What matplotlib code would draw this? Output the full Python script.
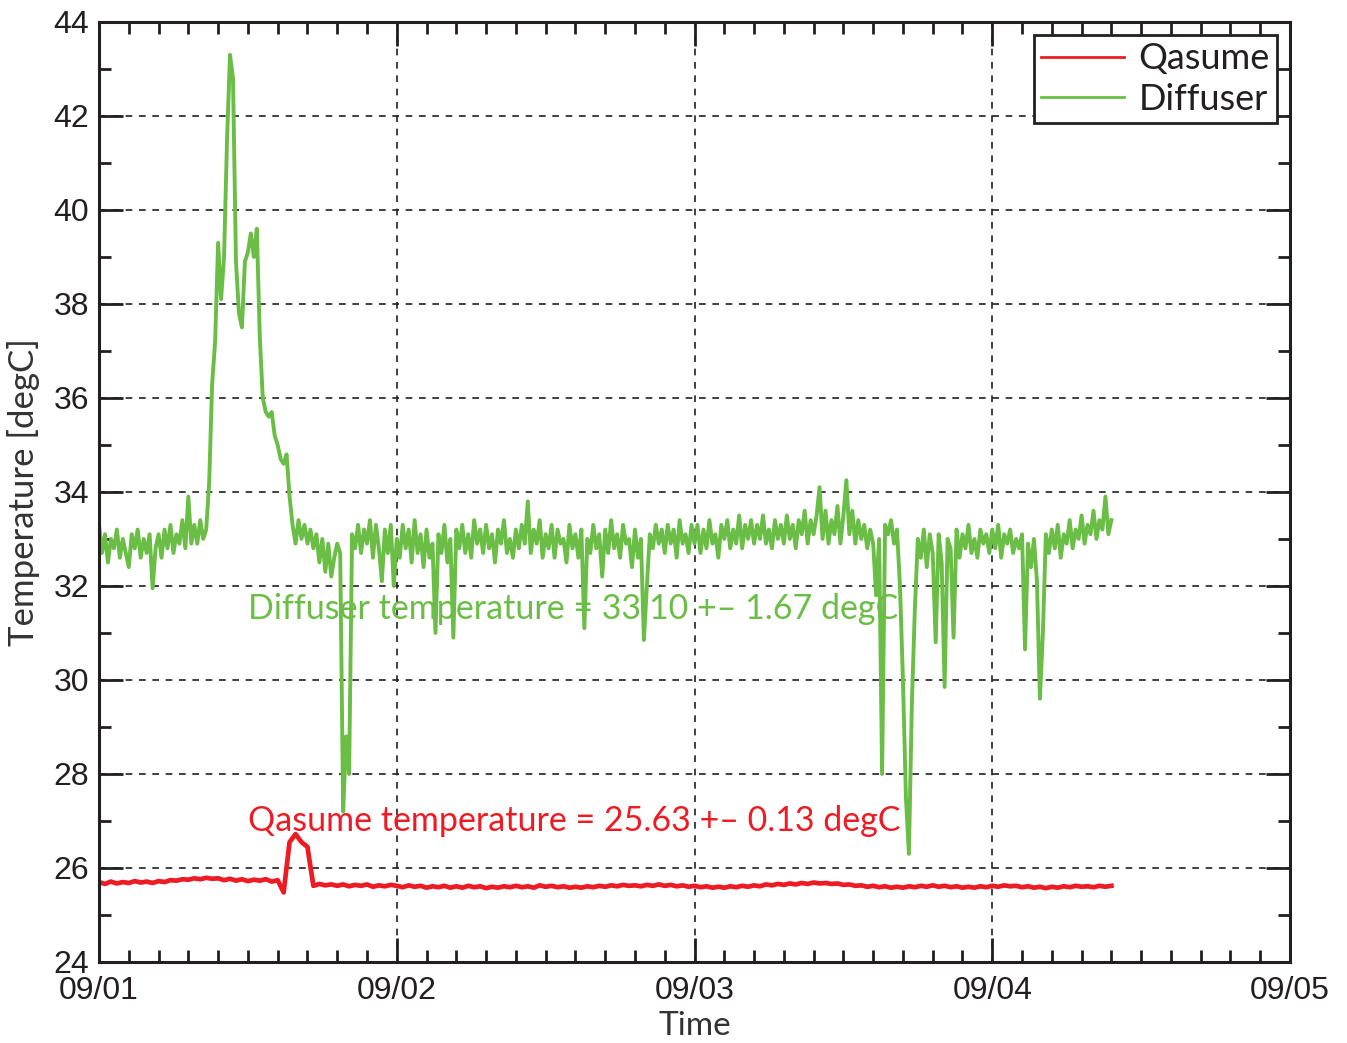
import matplotlib.pyplot as plt
from matplotlib.ticker import MultipleLocator

# time in days since 09/01, one diffuser sample every 0.01 day
diff_start = 0.0
diff_step = 0.01
diffuser = [
    33.3, 32.7, 33.1, 32.5, 33.0, 32.8, 33.2, 32.6, 33.0, 32.7,
    32.4, 33.1, 32.8, 33.2, 32.6, 33.0, 32.7, 33.1, 31.95, 32.8,
    33.1, 32.6, 33.2, 32.8, 33.3, 32.7, 33.1, 32.9, 33.4, 32.8,
    33.9, 32.9, 33.3, 32.9, 33.4, 33.0, 33.2, 34.2, 36.3, 37.2,
    39.3, 38.1, 39.0, 41.5, 43.3, 42.8, 38.9, 37.8, 37.5, 38.9,
    39.1, 39.5, 39.0, 39.6, 37.3, 36.0, 35.7, 35.6, 35.7, 35.2,
    35.0, 34.7, 34.6, 34.8, 33.9, 33.3, 32.9, 33.4, 33.0, 33.3,
    32.9, 33.2, 32.8, 33.1, 32.5, 33.0, 32.3, 32.9, 32.2, 32.6,
    32.9, 32.7, 27.2, 28.8, 28.0, 33.1, 32.8, 33.3, 32.7, 33.2,
    32.9, 33.4, 32.6, 33.3, 32.8, 32.1, 33.2, 32.7, 33.3, 32.0,
    33.0, 32.6, 33.3, 32.8, 33.2, 32.5, 33.4, 32.7, 33.1, 32.4,
    33.2, 32.6, 32.9, 31.0, 33.1, 32.7, 33.3, 32.5, 33.0, 30.9,
    33.2, 32.8, 33.3, 32.7, 33.1, 32.6, 33.4, 32.9, 33.2, 32.7,
    33.3, 32.8, 33.1, 32.5, 33.2, 32.9, 33.4, 32.7, 33.0, 32.6,
    33.2, 32.8, 33.3, 32.9, 33.8, 32.7, 33.2, 32.9, 33.4, 32.6,
    33.1, 32.8, 33.3, 32.6, 33.2, 32.9, 33.0, 32.5, 33.3, 32.8,
    33.1, 32.6, 33.2, 31.1, 33.0, 32.7, 33.3, 32.8, 33.1, 32.2,
    33.2, 32.7, 33.4, 32.8, 33.1, 32.6, 33.3, 32.9, 33.0, 32.4,
    33.2, 32.6, 33.0, 30.85, 32.0, 33.1, 32.8, 33.3, 32.9, 33.2,
    32.7, 33.3, 32.9, 33.2, 32.6, 33.4, 32.9, 33.1, 32.7, 33.3,
    32.9, 33.3, 32.7, 33.2, 32.8, 33.4, 32.9, 33.1, 32.6, 33.3,
    33.0, 33.4, 32.8, 33.2, 32.9, 33.5, 32.8, 33.3, 33.0, 33.4,
    32.9, 33.3, 33.0, 33.5, 32.9, 33.2, 32.8, 33.4, 33.0, 33.3,
    32.9, 33.5, 33.0, 33.3, 32.8, 33.4, 33.1, 33.6, 32.9, 33.4,
    33.1, 33.5, 34.1, 33.0, 33.6, 32.9, 33.4, 33.1, 33.7, 32.9,
    33.5, 34.25, 33.1, 33.6, 32.9, 33.4, 33.0, 33.3, 32.8, 33.2,
    32.9, 31.8, 33.0, 28.0, 33.3, 33.1, 33.4, 32.9, 33.2, 32.0,
    30.0, 27.5, 26.3, 29.5, 31.5, 33.0, 32.6, 33.2, 32.4, 33.1,
    32.7, 30.8, 33.1, 32.5, 29.85, 33.0, 32.8, 30.9, 33.2, 32.6,
    33.1, 32.8, 33.3, 32.7, 33.0, 32.6, 33.2, 32.9, 33.1, 32.7,
    33.2, 32.8, 33.3, 32.6, 33.1, 32.9, 33.2, 32.7, 33.0, 32.8,
    33.1, 30.65, 32.9, 32.4, 33.0, 32.1, 29.6, 31.0, 33.1, 32.7,
    33.2, 32.8, 33.3, 32.6, 33.1, 32.9, 33.4, 32.8, 33.2, 33.0,
    33.5, 32.9, 33.3, 33.1, 33.6, 33.0, 33.4, 33.2, 33.9, 33.1,
    33.4,
]

# one qasume sample every 0.02 day
qas_start = 0.0
qas_step = 0.02
qasume = [
    25.70, 25.66, 25.71, 25.67, 25.70, 25.68, 25.72, 25.69, 25.71, 25.68,
    25.72, 25.70, 25.74, 25.73, 25.76, 25.75, 25.78, 25.76, 25.79, 25.77,
    25.78, 25.74, 25.77, 25.73, 25.76, 25.72, 25.75, 25.73, 25.76, 25.71,
    25.74, 25.48, 26.55, 26.72, 26.55, 26.45, 25.62, 25.66, 25.63, 25.65,
    25.62, 25.65, 25.61, 25.64, 25.62, 25.65, 25.60, 25.63, 25.61, 25.64,
    25.62, 25.59, 25.63, 25.60, 25.62, 25.58, 25.61, 25.59, 25.62, 25.58,
    25.61, 25.58, 25.62, 25.59, 25.61, 25.57, 25.60, 25.58, 25.61, 25.59,
    25.62, 25.59, 25.61, 25.58, 25.63, 25.60, 25.62, 25.59, 25.61, 25.58,
    25.60, 25.58, 25.61, 25.59, 25.62, 25.60, 25.63, 25.61, 25.64, 25.62,
    25.63, 25.61, 25.64, 25.62, 25.65, 25.62, 25.64, 25.61, 25.63, 25.60,
    25.62, 25.59, 25.61, 25.58, 25.60, 25.58, 25.61, 25.59, 25.62, 25.60,
    25.63, 25.61, 25.65, 25.63, 25.66, 25.64, 25.67, 25.65, 25.68, 25.66,
    25.69, 25.67, 25.68, 25.66, 25.67, 25.64, 25.65, 25.62, 25.63, 25.60,
    25.62, 25.59, 25.61, 25.58, 25.60, 25.58, 25.61, 25.59, 25.62, 25.60,
    25.63, 25.60, 25.62, 25.59, 25.61, 25.58, 25.60, 25.58, 25.61, 25.59,
    25.62, 25.60, 25.63, 25.61, 25.62, 25.59, 25.61, 25.58, 25.60, 25.57,
    25.60, 25.58, 25.61, 25.59, 25.62, 25.60, 25.61, 25.59, 25.62, 25.60,
    25.62,
]

day_labels = ['09/01', '09/02', '09/03', '09/04', '09/05']
diff_text = 'Diffuser temperature = 33.10 +\u2013 1.67 degC'
qas_text = 'Qasume temperature = 25.63 +\u2013 0.13 degC'

green = '#6abd45'
red = '#ed1c24'
dark = '#231f20'
text_font = ['Lato', 'DejaVu Sans']
tick_font = ['Liberation Sans', 'DejaVu Sans']

diff_t = [diff_start + i * diff_step for i in range(len(diffuser))]
qas_t = [qas_start + i * qas_step for i in range(len(qasume))]

fig = plt.figure(figsize=(13.47, 10.43), dpi=100)
ax = fig.add_axes([0.0735, 0.0777, 0.8842, 0.9013])

ax.plot(qas_t, qasume, color=red, lw=3.4, label='Qasume')
ax.plot(diff_t, diffuser, color=green, lw=2.8, label='Diffuser')

ax.set_xlim(0, 4)
ax.set_ylim(24, 44)
ax.set_xticks(range(len(day_labels)), day_labels)
ax.xaxis.set_minor_locator(MultipleLocator(0.1))
ax.yaxis.set_major_locator(MultipleLocator(2))
ax.yaxis.set_minor_locator(MultipleLocator(1))
ax.tick_params(which='both', direction='in', top=True, right=True,
               width=2, colors=dark, labelsize=23)
ax.tick_params(axis='x', pad=10)
ax.tick_params(axis='y', pad=7)
ax.tick_params(which='major', length=17)
ax.tick_params(which='minor', length=8.5)
for lab in ax.get_xticklabels() + ax.get_yticklabels():
    lab.set_family(tick_font)
for sp in ax.spines.values():
    sp.set_linewidth(2.2)
    sp.set_color(dark)

ax.grid(True, which='major', color=dark, ls=(0, (4, 4)), lw=1.2)

ax.set_xlabel('Time', fontsize=24, family=text_font, color='#333333',
              labelpad=4)
ax.set_ylabel('Temperature [degC]', fontsize=25, family=text_font,
              color='#333333', labelpad=10)

ax.text(0.5, 31.5, diff_text, color=green, fontsize=24.5, family=text_font,
        va='center')
ax.text(0.5, 27.0, qas_text, color=red, fontsize=24.5, family=text_font,
        va='center')

leg = ax.legend(loc='upper right', bbox_to_anchor=(0.989, 0.986),
                prop={'family': text_font, 'size': 26},
                fancybox=False, framealpha=1, edgecolor=dark,
                handlelength=2.3, handletextpad=0.4, borderpad=0.2,
                labelspacing=0.2, borderaxespad=0)
leg.get_frame().set_linewidth(2)
for line in leg.get_lines():
    line.set_linewidth(2)
for txt in leg.get_texts():
    txt.set_color(dark)

fig.savefig('out.png', dpi=100)
